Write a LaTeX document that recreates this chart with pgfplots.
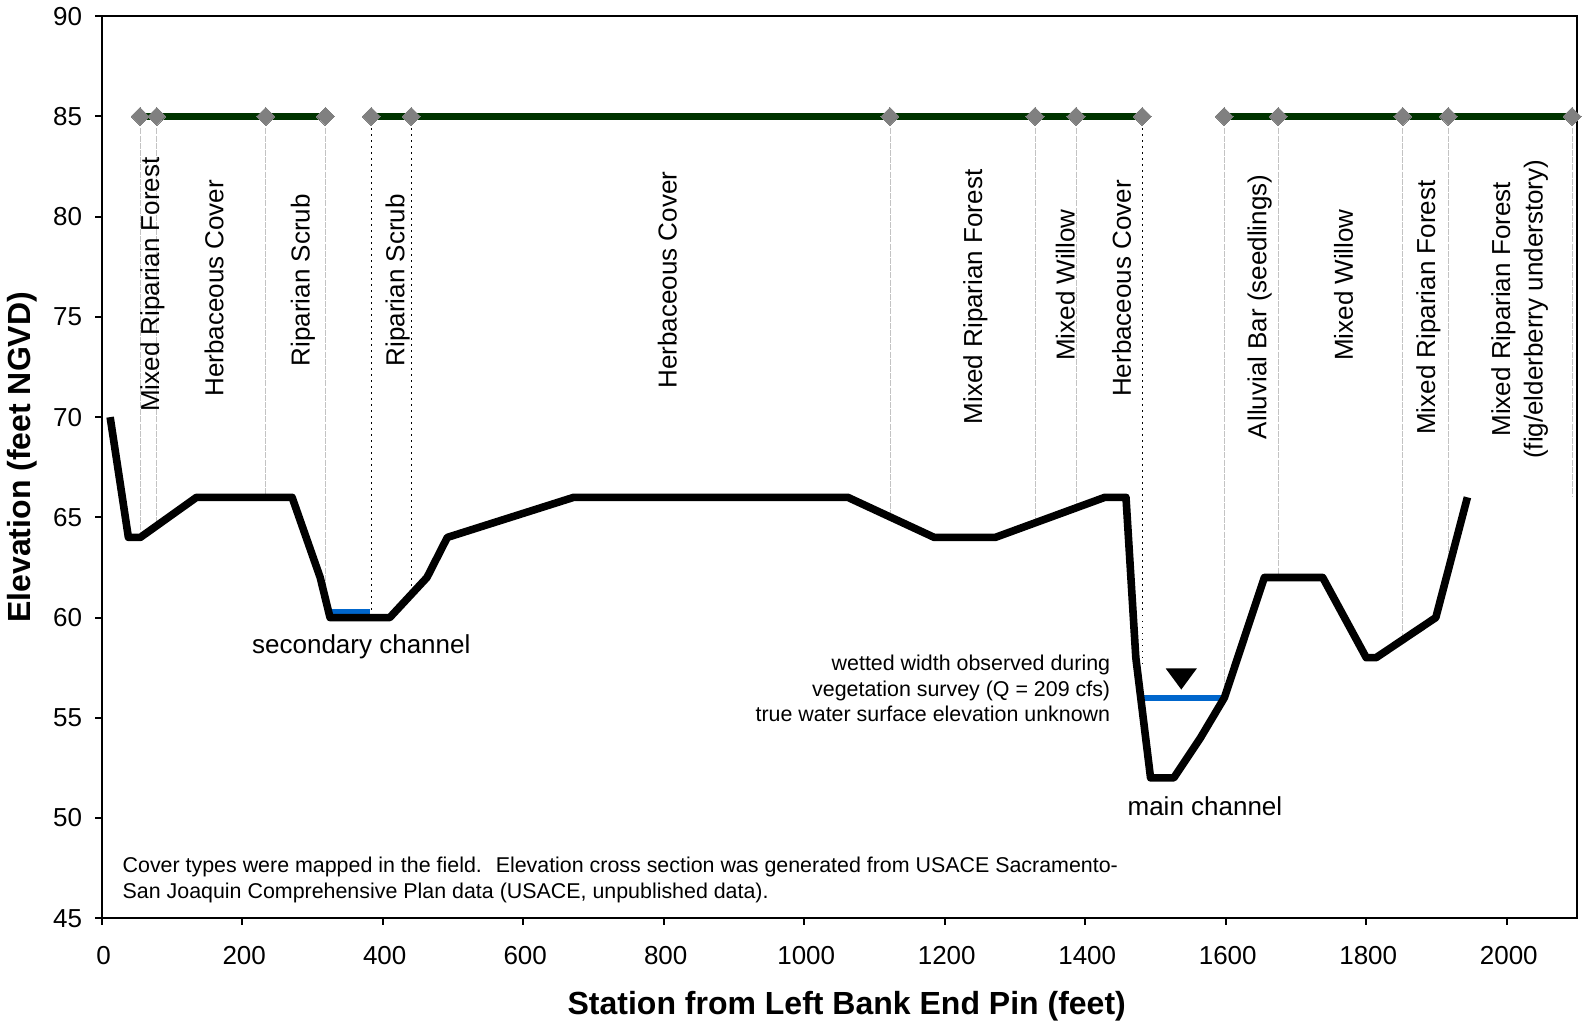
\documentclass[border=0pt]{standalone}
\usepackage{pgfplots}
\pgfplotsset{compat=1.18}
\usepackage{fontspec}
\setmainfont{Liberation Sans}
\definecolor{vegGreen}{RGB}{0,51,0}
\definecolor{diaGray}{RGB}{128,128,128}
\definecolor{waterBlue}{RGB}{0,102,204}
\definecolor{dropGray}{RGB}{195,195,195}
\newcommand\vf{\fontsize{13}{15.6}\selectfont}
\newcommand\nf{\fontsize{10.7}{13}\selectfont}
\begin{document}
\begin{tikzpicture}
\begin{axis}[
  at={(0,0)}, anchor=south west,
  scale only axis, width=737.6pt, height=451pt,
  xmin=0, xmax=2100, ymin=45, ymax=90,
  xtick={0,200,...,2000}, ytick={45,50,...,90},
  tick align=outside, xtick pos=bottom, ytick pos=left,
  major tick length=3.3pt,
  tick style={black, line width=1pt},
  axis line style={line width=1.2pt},
  /pgf/number format/assume math mode=true,
  /pgf/number format/1000 sep={},
  tick label style={font=\fontsize{13}{15}\selectfont},
  xticklabel style={yshift=-7pt, xshift=1pt},
  yticklabel style={xshift=-3pt},
  xlabel={Station from Left Bank End Pin (feet)},
  ylabel={Elevation (feet NGVD)},
  label style={font=\fontsize{16}{19}\selectfont\bfseries},
  xlabel style={at={(axis description cs:0.505,-0.0976)}, anchor=center},
  ylabel style={at={(axis description cs:-0.054,0.511)}, anchor=center},
  clip=false,
]
% drop lines (gray)
\addplot[dropGray, line width=0.4pt, dash pattern=on 3pt off 0.6pt, unbounded coords=jump] coordinates {
(54.6,84.4) (54.6,64) (54.6,nan)
(78.2,84.4) (78.2,64.6) (78.2,nan)
(233.6,84.4) (233.6,66) (233.6,nan)
(318.5,84.4) (318.5,61.0) (318.5,nan)
(1122,84.4) (1122,65.0) (1122,nan)
(1328.5,84.4) (1328.5,64.7) (1328.5,nan)
(1386.9,84.4) (1386.9,65.5) (1386.9,nan)
(1597.7,84.4) (1597.7,56) (1597.7,nan)
(1674.6,84.4) (1674.6,62) (1674.6,nan)
(1851.8,84.4) (1851.8,58.9) (1851.8,nan)
(1916.8,84.4) (1916.8,62.8) (1916.8,nan)
(2093,84.4) (2093,66)
};
% drop lines (dotted black)
\addplot[black, line width=0.45pt, dash pattern=on 0.6pt off 2.4pt, unbounded coords=jump] coordinates {
(383.6,84.4) (383.6,60) (383.6,nan)
(440.6,84.4) (440.6,61.15) (440.6,nan)
(1481,84.4) (1481,57.6)
};
% vegetation boundaries
\addplot[vegGreen, line width=3.5pt, mark=square*, mark size=3.2pt,
  mark options={rotate=45, fill=diaGray, draw=diaGray, line width=0pt}]
  coordinates {(54.6,85) (78.2,85) (233.6,85) (318.5,85)};
\addplot[vegGreen, line width=3.5pt, mark=square*, mark size=3.2pt,
  mark options={rotate=45, fill=diaGray, draw=diaGray, line width=0pt}]
  coordinates {(383.6,85) (440.6,85) (1122,85) (1328.5,85) (1386.9,85) (1481,85)};
\addplot[vegGreen, line width=3.5pt, mark=square*, mark size=3.2pt,
  mark options={rotate=45, fill=diaGray, draw=diaGray, line width=0pt}]
  coordinates {(1597.7,85) (1674.6,85) (1851.8,85) (1916.8,85) (2093,85)};
% water lines
\addplot[waterBlue, line width=3pt] coordinates {(328,60.3) (382,60.3)};
\addplot[waterBlue, line width=3.2pt] coordinates {(1484,56) (1598,56)};
% elevation profile
\addplot[black, line width=3.8pt, line join=round] coordinates {
(12,70) (38,64) (55,64) (135,66) (271,66) (311,62) (325,60) (410,60)
(463,62) (492,64) (672,66) (1062,66) (1185,64) (1272,64) (1428,66)
(1458,66) (1472,58) (1493,52) (1526,52) (1564,54) (1598,56) (1636,60)
(1655,62) (1738,62) (1800,58) (1814,58) (1899,60) (1944,66)
};
% water surface triangle
\addplot[fill=black, draw=none] coordinates {(1514.6,57.46) (1558.8,57.46) (1536.7,56.41)} -- cycle;
% vegetation labels
\node[rotate=90, anchor=base, font=\vf] at (axis cs:81.6,76.61) {Mixed Riparian Forest};
\node[rotate=90, anchor=base, font=\vf] at (axis cs:173.3,76.43) {Herbaceous Cover};
\node[rotate=90, anchor=base, font=\vf] at (axis cs:296,76.83) {Riparian Scrub};
\node[rotate=90, anchor=base, font=\vf] at (axis cs:431,76.83) {Riparian Scrub};
\node[rotate=90, anchor=base, font=\vf] at (axis cs:818.4,76.83) {Herbaceous Cover};
\node[rotate=90, anchor=base, font=\vf] at (axis cs:1253.3,76.0) {Mixed Riparian Forest};
\node[rotate=90, anchor=base, font=\vf] at (axis cs:1385,76.59) {Mixed Willow};
\node[rotate=90, anchor=base, font=\vf] at (axis cs:1465,76.42) {Herbaceous Cover};
\node[rotate=90, anchor=base, font=\vf] at (axis cs:1658,75.5) {Alluvial Bar (seedlings)};
\node[rotate=90, anchor=base, font=\vf] at (axis cs:1781,76.59) {Mixed Willow};
\node[rotate=90, anchor=base, font=\vf] at (axis cs:1898,75.46) {Mixed Riparian Forest};
\node[rotate=90, anchor=base, font=\vf] at (axis cs:2004.7,75.38) {Mixed Riparian Forest};
\node[rotate=90, anchor=base, font=\vf] at (axis cs:2051,75.38) {(fig/elderberry understory)};
% channel labels
\node[anchor=center, font=\vf] at (axis cs:369.5,58.55) {secondary channel};
\node[anchor=center, font=\vf] at (axis cs:1570.4,50.6) {main channel};
% annotation
\node[anchor=base east, font=\nf, inner sep=0pt] at (axis cs:1436,57.38) {wetted width observed during};
\node[anchor=base east, font=\nf, inner sep=0pt] at (axis cs:1436,56.08) {vegetation survey (Q = 209 cfs)};
\node[anchor=base east, font=\nf, inner sep=0pt] at (axis cs:1436,54.83) {true water surface elevation unknown};
% note
\node[anchor=base west, font=\nf, inner sep=0pt] at (axis cs:29.3,47.27) {Cover types were mapped in the field.~ Elevation cross section was generated from USACE Sacramento-};
\node[anchor=base west, font=\nf, inner sep=0pt] at (axis cs:29.3,46.0) {San Joaquin Comprehensive Plan data (USACE, unpublished data).};
\end{axis}
\path (-50.85pt,-54pt) rectangle (741.6pt,459.1pt);
\end{tikzpicture}
\end{document}
